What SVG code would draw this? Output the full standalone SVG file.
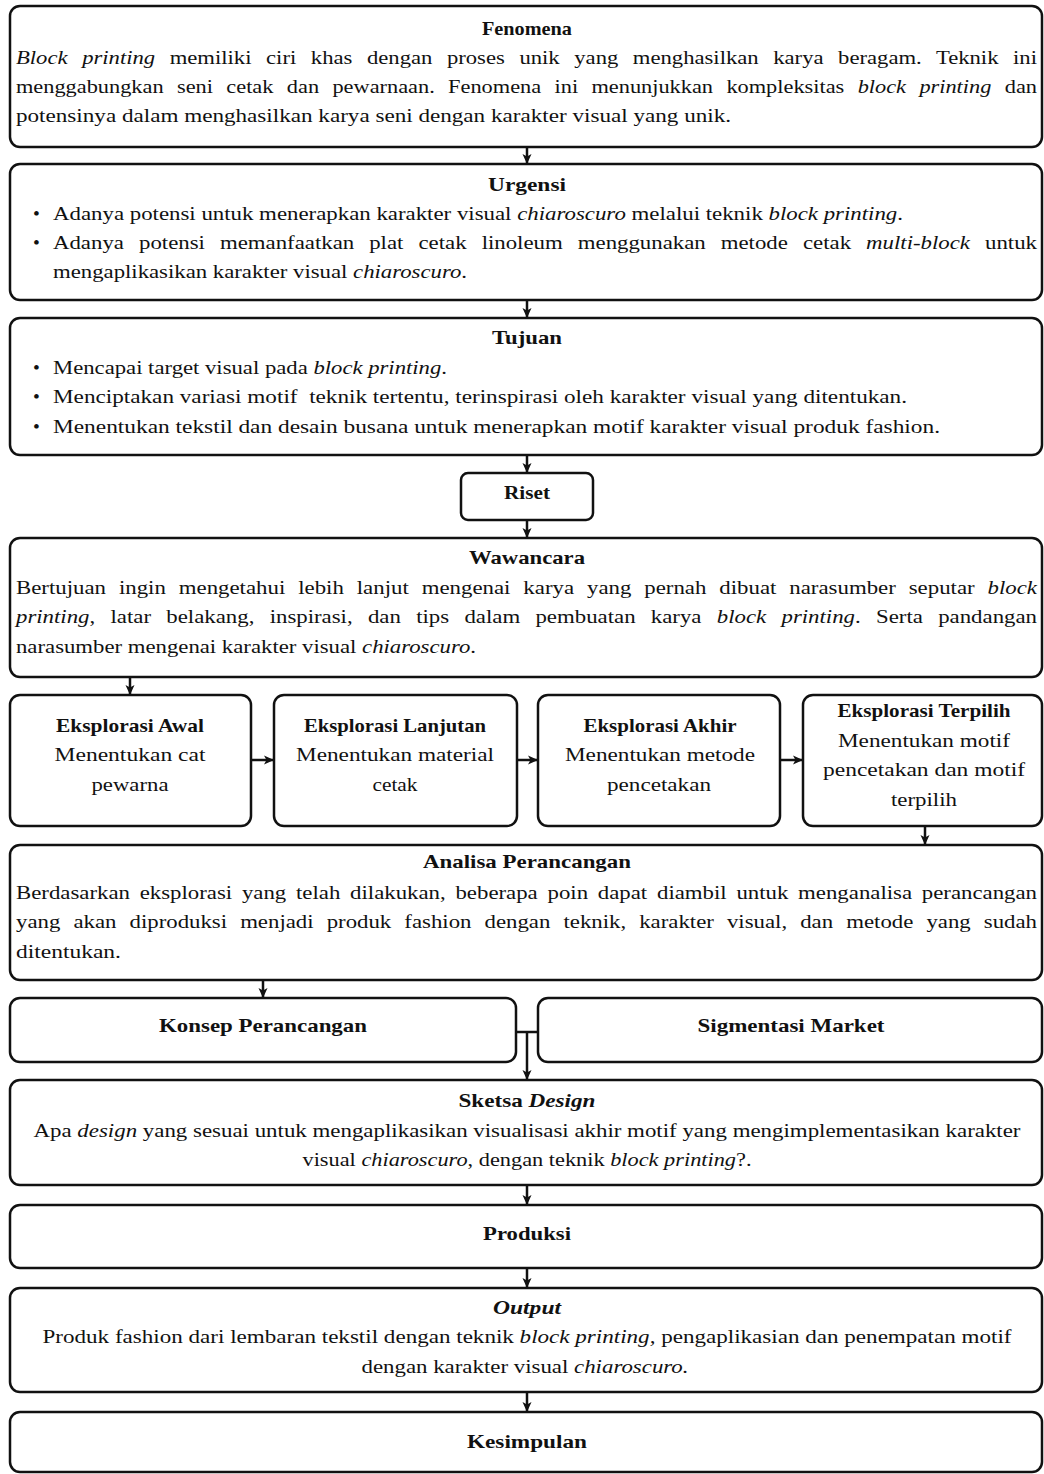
<svg xmlns="http://www.w3.org/2000/svg" width="1044" height="1474" viewBox="0 0 1044 1474">
<style>
.box{fill:#fff;stroke:#111;stroke-width:2.5}
text{font-family:"Liberation Serif","Times New Roman",serif;font-size:19.5px;fill:#111}
.b{font-weight:bold}
.c{text-anchor:middle}
.i{font-style:italic}
.con{stroke:#111;stroke-width:2.5;fill:none}
</style>
<defs>
<marker id="ah" viewBox="0 0 10 10" refX="10" refY="5" markerWidth="10" markerHeight="10" markerUnits="userSpaceOnUse" orient="auto">
<path d="M0,0.5 L10,5 L0,9.5 L2.5,5 z" fill="#111"/>
</marker>
</defs>
<rect width="1044" height="1474" fill="#fff"/>

<g id="connectors">
<line class="con" x1="527" y1="147" x2="527" y2="164" marker-end="url(#ah)"/>
<line class="con" x1="527" y1="300" x2="527" y2="318" marker-end="url(#ah)"/>
<line class="con" x1="527" y1="455" x2="527" y2="473" marker-end="url(#ah)"/>
<line class="con" x1="527" y1="520" x2="527" y2="538" marker-end="url(#ah)"/>
<line class="con" x1="130" y1="677" x2="130" y2="695" marker-end="url(#ah)"/>
<line class="con" x1="251" y1="760" x2="274" y2="760" marker-end="url(#ah)"/>
<line class="con" x1="517" y1="760" x2="538" y2="760" marker-end="url(#ah)"/>
<line class="con" x1="780" y1="760" x2="803" y2="760" marker-end="url(#ah)"/>
<line class="con" x1="925" y1="826" x2="925" y2="845" marker-end="url(#ah)"/>
<line class="con" x1="263" y1="980" x2="263" y2="998" marker-end="url(#ah)"/>
<line class="con" x1="516" y1="1032" x2="538" y2="1032"/>
<line class="con" x1="527" y1="1032" x2="527" y2="1080" marker-end="url(#ah)"/>
<line class="con" x1="527" y1="1185" x2="527" y2="1205" marker-end="url(#ah)"/>
<line class="con" x1="527" y1="1268" x2="527" y2="1288" marker-end="url(#ah)"/>
<line class="con" x1="527" y1="1392" x2="527" y2="1412" marker-end="url(#ah)"/>
</g>

<g id="fenomena">
<rect class="box" x="10" y="6" width="1032" height="141" rx="10"/>
<text class="b c" x="527" y="35" textLength="90" lengthAdjust="spacingAndGlyphs">Fenomena</text>
<text x="16" y="64" word-spacing="7.7" textLength="1021" lengthAdjust="spacingAndGlyphs"><tspan class="i">Block printing</tspan> memiliki ciri khas dengan proses unik yang menghasilkan karya beragam. Teknik ini</text>
<text x="16" y="93" word-spacing="6.8" textLength="1021" lengthAdjust="spacingAndGlyphs">menggabungkan seni cetak dan pewarnaan. Fenomena ini menunjukkan kompleksitas <tspan class="i">block printing</tspan> dan</text>
<text x="16" y="122" textLength="715" lengthAdjust="spacingAndGlyphs">potensinya dalam menghasilkan karya seni dengan karakter visual yang unik.</text>
</g>

<g id="urgensi">
<rect class="box" x="10" y="164" width="1032" height="136" rx="10"/>
<text class="b c" x="527" y="191" textLength="78" lengthAdjust="spacingAndGlyphs">Urgensi</text>
<text x="33" y="220">•</text>
<text x="53" y="220" textLength="850" lengthAdjust="spacingAndGlyphs">Adanya potensi untuk menerapkan karakter visual <tspan class="i">chiaroscuro</tspan> melalui teknik <tspan class="i">block printing</tspan>.</text>
<text x="33" y="249">•</text>
<text x="53" y="249" word-spacing="8" textLength="984" lengthAdjust="spacingAndGlyphs">Adanya potensi memanfaatkan plat cetak linoleum menggunakan metode cetak <tspan class="i">multi-block</tspan> untuk</text>
<text x="53" y="278" textLength="414" lengthAdjust="spacingAndGlyphs">mengaplikasikan karakter visual <tspan class="i">chiaroscuro</tspan>.</text>
</g>

<g id="tujuan">
<rect class="box" x="10" y="318" width="1032" height="137" rx="10"/>
<text class="b c" x="527" y="344" textLength="70" lengthAdjust="spacingAndGlyphs">Tujuan</text>
<text x="33" y="374">•</text>
<text x="53" y="374" textLength="394" lengthAdjust="spacingAndGlyphs">Mencapai target visual pada <tspan class="i">block printing</tspan>.</text>
<text x="33" y="403">•</text>
<text x="53" y="403" textLength="854" lengthAdjust="spacingAndGlyphs" xml:space="preserve">Menciptakan variasi motif  teknik tertentu, terinspirasi oleh karakter visual yang ditentukan.</text>
<text x="33" y="433">•</text>
<text x="53" y="433" textLength="887" lengthAdjust="spacingAndGlyphs">Menentukan tekstil dan desain busana untuk menerapkan motif karakter visual produk fashion.</text>
</g>

<g id="riset">
<rect class="box" x="461" y="473" width="132" height="47" rx="7"/>
<text class="b c" x="527" y="499" textLength="46" lengthAdjust="spacingAndGlyphs">Riset</text>
</g>

<g id="wawancara">
<rect class="box" x="10" y="538" width="1032" height="139" rx="10"/>
<text class="b c" x="527" y="564" textLength="116" lengthAdjust="spacingAndGlyphs">Wawancara</text>
<text x="16" y="594" word-spacing="6.2" textLength="1021" lengthAdjust="spacingAndGlyphs">Bertujuan ingin mengetahui lebih lanjut mengenai karya yang pernah dibuat narasumber seputar <tspan class="i">block</tspan></text>
<text x="16" y="623" word-spacing="8.2" textLength="1021" lengthAdjust="spacingAndGlyphs"><tspan class="i">printing</tspan>, latar belakang, inspirasi, dan tips dalam pembuatan karya <tspan class="i">block printing</tspan>. Serta pandangan</text>
<text x="16" y="653" textLength="460" lengthAdjust="spacingAndGlyphs">narasumber mengenai karakter visual <tspan class="i">chiaroscuro</tspan>.</text>
</g>

<g id="eksplorasi-awal">
<rect class="box" x="10" y="695" width="241" height="131" rx="10"/>
<text class="b c" x="130" y="732" textLength="148" lengthAdjust="spacingAndGlyphs">Eksplorasi Awal</text>
<text class="c" x="130" y="761" textLength="151" lengthAdjust="spacingAndGlyphs">Menentukan cat</text>
<text class="c" x="130" y="791" textLength="77" lengthAdjust="spacingAndGlyphs">pewarna</text>
</g>

<g id="eksplorasi-lanjutan">
<rect class="box" x="274" y="695" width="243" height="131" rx="10"/>
<text class="b c" x="395" y="732" textLength="182" lengthAdjust="spacingAndGlyphs">Eksplorasi Lanjutan</text>
<text class="c" x="395" y="761" textLength="198" lengthAdjust="spacingAndGlyphs">Menentukan material</text>
<text class="c" x="395" y="791" textLength="45" lengthAdjust="spacingAndGlyphs">cetak</text>
</g>

<g id="eksplorasi-akhir">
<rect class="box" x="538" y="695" width="242" height="131" rx="10"/>
<text class="b c" x="660" y="732" textLength="153" lengthAdjust="spacingAndGlyphs">Eksplorasi Akhir</text>
<text class="c" x="660" y="761" textLength="190" lengthAdjust="spacingAndGlyphs">Menentukan metode</text>
<text class="c" x="659" y="791" textLength="104" lengthAdjust="spacingAndGlyphs">pencetakan</text>
</g>

<g id="eksplorasi-terpilih">
<rect class="box" x="803" y="695" width="239" height="131" rx="10"/>
<text class="b c" x="924" y="717" textLength="173" lengthAdjust="spacingAndGlyphs">Eksplorasi Terpilih</text>
<text class="c" x="924" y="747" textLength="172" lengthAdjust="spacingAndGlyphs">Menentukan motif</text>
<text class="c" x="924" y="776" textLength="202" lengthAdjust="spacingAndGlyphs">pencetakan dan motif</text>
<text class="c" x="924" y="806" textLength="66" lengthAdjust="spacingAndGlyphs">terpilih</text>
</g>

<g id="analisa-perancangan">
<rect class="box" x="10" y="845" width="1032" height="135" rx="10"/>
<text class="b c" x="527" y="868" textLength="208" lengthAdjust="spacingAndGlyphs">Analisa Perancangan</text>
<text x="16" y="899" word-spacing="3.5" textLength="1021" lengthAdjust="spacingAndGlyphs">Berdasarkan eksplorasi yang telah dilakukan, beberapa poin dapat diambil untuk menganalisa perancangan</text>
<text x="16" y="928" word-spacing="6.3" textLength="1021" lengthAdjust="spacingAndGlyphs">yang akan diproduksi menjadi produk fashion dengan teknik, karakter visual, dan metode yang sudah</text>
<text x="16" y="958" textLength="105" lengthAdjust="spacingAndGlyphs">ditentukan.</text>
</g>

<g id="konsep-perancangan">
<rect class="box" x="10" y="998" width="506" height="64" rx="10"/>
<text class="b c" x="263" y="1032" textLength="208" lengthAdjust="spacingAndGlyphs">Konsep Perancangan</text>
</g>

<g id="sigmentasi-market">
<rect class="box" x="538" y="998" width="504" height="64" rx="10"/>
<text class="b c" x="791" y="1032" textLength="187" lengthAdjust="spacingAndGlyphs">Sigmentasi Market</text>
</g>

<g id="sketsa-design">
<rect class="box" x="10" y="1080" width="1032" height="105" rx="10"/>
<text class="b c" x="527" y="1107" textLength="137" lengthAdjust="spacingAndGlyphs">Sketsa <tspan class="i">Design</tspan></text>
<text class="c" x="527" y="1137" textLength="987" lengthAdjust="spacingAndGlyphs">Apa <tspan class="i">design</tspan> yang sesuai untuk mengaplikasikan visualisasi akhir motif yang mengimplementasikan karakter</text>
<text class="c" x="527" y="1166" textLength="449" lengthAdjust="spacingAndGlyphs">visual <tspan class="i">chiaroscuro</tspan>, dengan teknik <tspan class="i">block printing</tspan>?.</text>
</g>

<g id="produksi">
<rect class="box" x="10" y="1205" width="1032" height="63" rx="10"/>
<text class="b c" x="527" y="1240" textLength="88" lengthAdjust="spacingAndGlyphs">Produksi</text>
</g>

<g id="output">
<rect class="box" x="10" y="1288" width="1032" height="104" rx="10"/>
<text class="b i c" x="527" y="1314" textLength="68" lengthAdjust="spacingAndGlyphs">Output</text>
<text class="c" x="527" y="1343" textLength="969" lengthAdjust="spacingAndGlyphs">Produk fashion dari lembaran tekstil dengan teknik <tspan class="i">block printing,</tspan> pengaplikasian dan penempatan motif</text>
<text class="c" x="525" y="1373" textLength="327" lengthAdjust="spacingAndGlyphs">dengan karakter visual <tspan class="i">chiaroscuro.</tspan></text>
</g>

<g id="kesimpulan">
<rect class="box" x="10" y="1412" width="1032" height="60" rx="10"/>
<text class="b c" x="527" y="1448" textLength="120" lengthAdjust="spacingAndGlyphs">Kesimpulan</text>
</g>
</svg>
